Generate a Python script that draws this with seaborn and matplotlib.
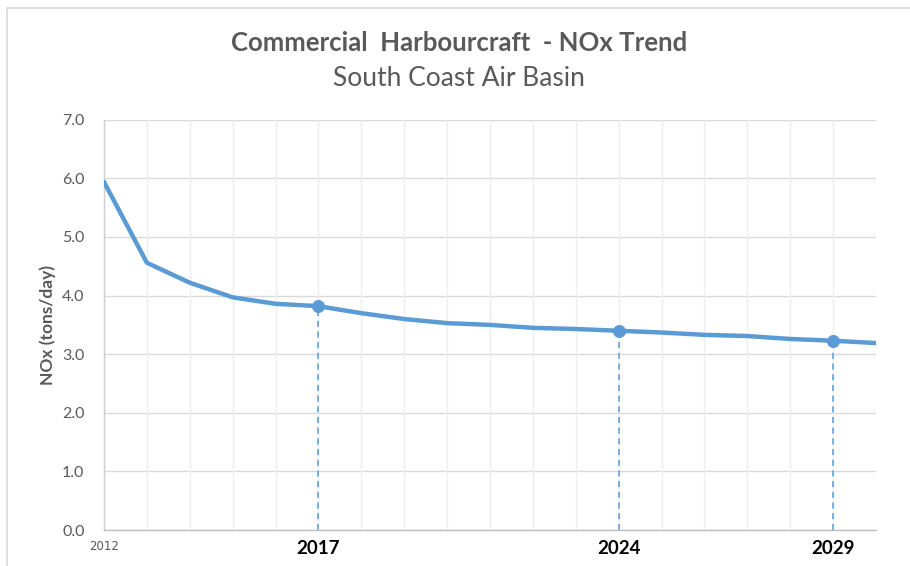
import matplotlib
matplotlib.use("Agg")
import matplotlib.pyplot as plt
import seaborn as sns
import pandas as pd
from matplotlib.patches import Rectangle

years = list(range(2012, 2031))
nox = [5.94, 4.56, 4.22, 3.97, 3.86, 3.82, 3.70, 3.60, 3.53, 3.50, 3.45,
       3.43, 3.40, 3.37, 3.33, 3.31, 3.26, 3.23, 3.19]
milestone_years = [2017, 2024, 2029]
label_years = [2012, 2017, 2024, 2029]
yticks = [0.0, 1.0, 2.0, 3.0, 4.0, 5.0, 6.0, 7.0]

title = "Commercial  Harbourcraft  - NOx Trend"
subtitle = "South Coast Air Basin"
ylabel = "NOx (tons/day)"

sns.set_theme(style="white")
plt.rcParams['font.family'] = ['Lato', 'DejaVu Sans']

df = pd.DataFrame({"year": years, "nox": nox})
ms = df[df["year"].isin(milestone_years)]

fig = plt.figure(figsize=(9.1, 5.66), dpi=100)
ax = fig.add_axes([104/910, 1-530/566, 772/910, (530-119.8)/566])

blue = "#5B9BD5"
# gridlines
for y in yticks:
    ax.axhline(y, color="#D9D9D9", lw=1.0, zorder=0)
for x in years:
    ax.axvline(x, color="#EEEEEE", lw=1.0, zorder=0)

ax.vlines(ms["year"], 0, ms["nox"], colors=blue, linestyles=(0, (4, 3)), lw=1.1, zorder=1)
sns.lineplot(data=df, x="year", y="nox", ax=ax, color=blue, lw=3.2, zorder=3)
sns.scatterplot(data=ms, x="year", y="nox", ax=ax, color=blue, s=75, edgecolor=blue, zorder=4)

ax.set_xlim(2012, 2030)
ax.set_ylim(0, 7)
ax.set_yticks(yticks)
ax.set_yticklabels([f"{v:.1f}" for v in yticks], color="#595959", fontsize=11.5)
ax.set_xticks(label_years)
ax.set_xticklabels([str(y) for y in label_years])
for lab in ax.get_xticklabels():
    if lab.get_text() == "2012":
        lab.set_fontsize(8.5)
        lab.set_color("#595959")
        lab.set_family(["Liberation Sans Narrow", "DejaVu Sans"])
    else:
        lab.set_fontsize(13.5)
        lab.set_fontweight("bold")
        lab.set_color("black")
ax.tick_params(axis="both", length=0, pad=7)
ax.tick_params(axis="y", pad=14)
ax.set_xlabel("")
ax.set_ylabel(ylabel, fontsize=12.5, fontweight="bold", color="#595959", labelpad=4)

for s in ["top", "right"]:
    ax.spines[s].set_visible(False)
ax.spines["left"].set_color("#D0D0D0")
ax.spines["bottom"].set_color("#BFBFBF")
ax.spines["left"].set_linewidth(1)
ax.spines["bottom"].set_linewidth(1)

fig.text(459/910, 1-43/566, title, ha="center", va="center", fontsize=18.5,
         fontweight="bold", color="#595959")
fig.text(459/910, 1-78/566, subtitle, ha="center", va="center", fontsize=19,
         color="#595959")

fig.patches.append(Rectangle((7/910, -0.1), 1.2, 1 - 8/566 + 0.1, transform=fig.transFigure,
                             fill=False, edgecolor="#D9D9D9", lw=1.2))

fig.savefig("out.png", dpi=100, facecolor="white")
